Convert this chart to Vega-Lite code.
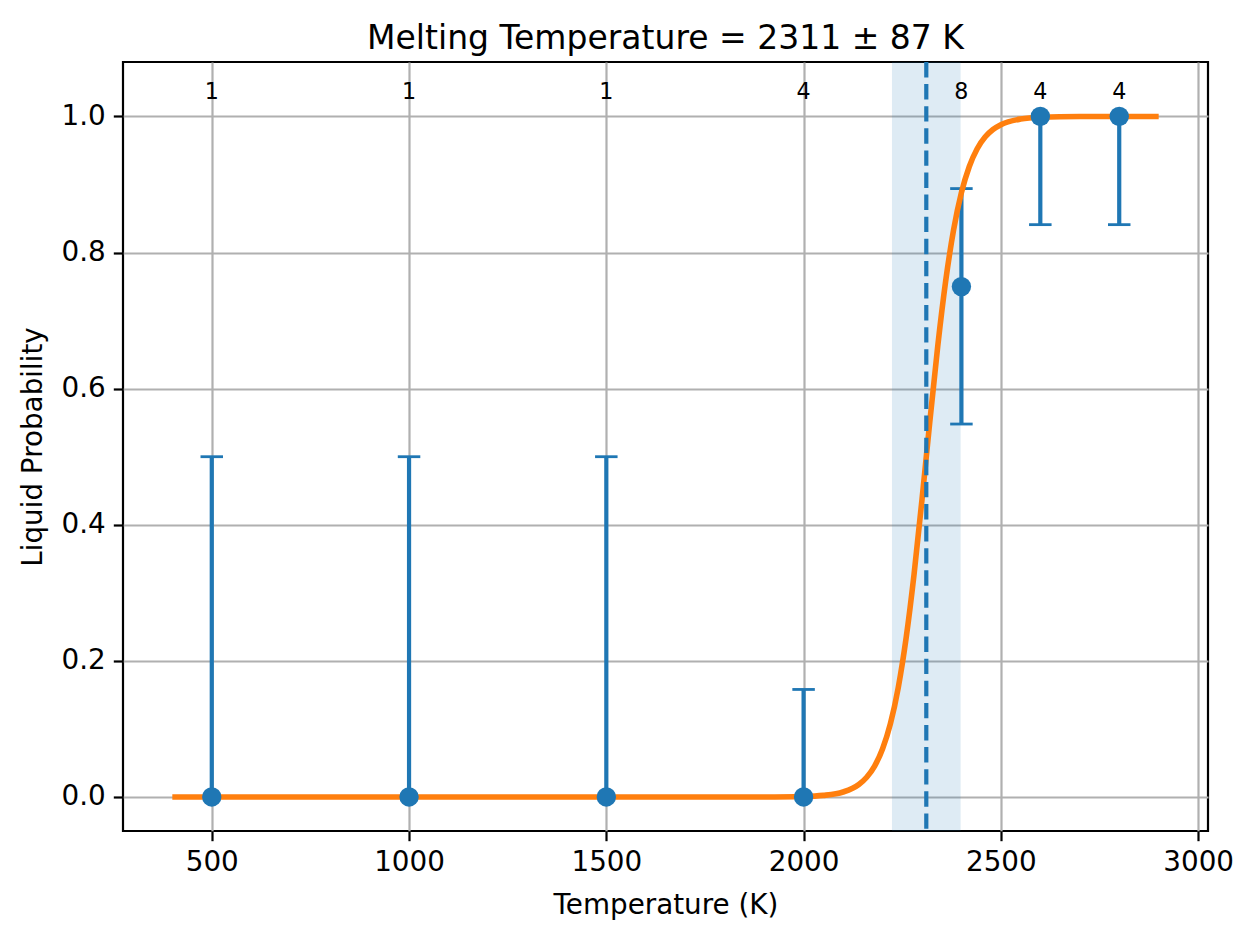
{
  "$schema": "https://vega.github.io/schema/vega-lite/v6.json",
  "width": 1085,
  "height": 769,
  "autosize": {"type": "none"},
  "padding": {"left": 123, "top": 62, "right": 45, "bottom": 108},
  "background": "white",
  "title": {
    "text": "Melting Temperature = 2311 ± 87 K",
    "font": "DejaVu Sans",
    "fontSize": 33,
    "fontWeight": "normal",
    "color": "black",
    "baseline": "alphabetic",
    "offset": 16,
    "dy": 38
  },
  "datasets": {
    "obs": [
      {"T": 500, "p": 0, "lo": 0, "hi": 0.5, "n": 1},
      {"T": 1000, "p": 0, "lo": 0, "hi": 0.5, "n": 1},
      {"T": 1500, "p": 0, "lo": 0, "hi": 0.5, "n": 1},
      {"T": 2000, "p": 0, "lo": 0, "hi": 0.158, "n": 4},
      {"T": 2400, "p": 0.75, "lo": 0.548, "hi": 0.894, "n": 8},
      {"T": 2600, "p": 1, "lo": 0.841, "hi": 1, "n": 4},
      {"T": 2800, "p": 1, "lo": 0.841, "hi": 1, "n": 4}
    ],
    "fit": [
      {"T": 400, "p": 0},
      {"T": 1500, "p": 0},
      {"T": 1800, "p": 0.00001},
      {"T": 1900, "p": 0.00007},
      {"T": 2000, "p": 0.00072},
      {"T": 2050, "p": 0.00231},
      {"T": 2100, "p": 0.00734},
      {"T": 2140, "p": 0.0184},
      {"T": 2160, "p": 0.029},
      {"T": 2180, "p": 0.0454},
      {"T": 2200, "p": 0.0704},
      {"T": 2220, "p": 0.1075},
      {"T": 2240, "p": 0.161},
      {"T": 2260, "p": 0.234},
      {"T": 2280, "p": 0.3272},
      {"T": 2300, "p": 0.4364},
      {"T": 2311, "p": 0.5},
      {"T": 2320, "p": 0.5521},
      {"T": 2340, "p": 0.6624},
      {"T": 2360, "p": 0.7576},
      {"T": 2380, "p": 0.8327},
      {"T": 2400, "p": 0.888},
      {"T": 2420, "p": 0.9265},
      {"T": 2440, "p": 0.9526},
      {"T": 2460, "p": 0.9697},
      {"T": 2480, "p": 0.9807},
      {"T": 2500, "p": 0.9878},
      {"T": 2550, "p": 0.9962},
      {"T": 2600, "p": 0.9988},
      {"T": 2700, "p": 0.9999},
      {"T": 2900, "p": 1}
    ],
    "melt": [{"Tm": 2311, "lo": 2224, "hi": 2398}]
  },
  "config": {
    "font": "DejaVu Sans",
    "view": {"stroke": "black", "strokeWidth": 2.2},
    "axis": {
      "domain": false,
      "grid": true,
      "gridColor": "#b0b0b0",
      "gridWidth": 2.2,
      "ticks": true,
      "tickColor": "black",
      "tickWidth": 2.2,
      "tickSize": 9.7,
      "labelFont": "DejaVu Sans",
      "labelFontSize": 27.8,
      "labelColor": "black",
      "labelPadding": 8,
      "titleFont": "DejaVu Sans",
      "titleFontSize": 27.8,
      "titleFontWeight": "normal",
      "titleColor": "black"
    }
  },
  "encoding": {
    "x": {
      "type": "quantitative",
      "scale": {"domain": [275, 3025], "nice": false, "zero": false},
      "axis": {
        "title": "Temperature (K)",
        "values": [500, 1000, 1500, 2000, 2500, 3000],
        "format": "d",
        "titlePadding": 15
      }
    },
    "y": {
      "type": "quantitative",
      "scale": {"domain": [-0.05, 1.08], "nice": false, "zero": false},
      "axis": {
        "title": "Liquid Probability",
        "values": [0, 0.2, 0.4, 0.6, 0.8, 1.0],
        "format": ".1f",
        "titlePadding": 14
      }
    }
  },
  "layer": [
    {
      "data": {"name": "melt"},
      "mark": {"type": "rect", "color": "#1f77b4", "opacity": 0.15},
      "encoding": {
        "x": {"field": "lo", "type": "quantitative"},
        "x2": {"field": "hi"}
      }
    },
    {
      "data": {"name": "obs"},
      "mark": {"type": "rule", "color": "#1f77b4", "strokeWidth": 4.2},
      "encoding": {
        "x": {"field": "T", "type": "quantitative"},
        "y": {"field": "lo", "type": "quantitative"},
        "y2": {"field": "hi"}
      }
    },
    {
      "data": {"name": "obs"},
      "transform": [{"filter": "datum.lo < datum.p"}],
      "mark": {"type": "tick", "orient": "horizontal", "color": "#1f77b4", "size": 22.5, "thickness": 2.8, "opacity": 1},
      "encoding": {
        "x": {"field": "T", "type": "quantitative"},
        "y": {"field": "lo", "type": "quantitative"}
      }
    },
    {
      "data": {"name": "obs"},
      "transform": [{"filter": "datum.hi > datum.p"}],
      "mark": {"type": "tick", "orient": "horizontal", "color": "#1f77b4", "size": 22.5, "thickness": 2.8, "opacity": 1},
      "encoding": {
        "x": {"field": "T", "type": "quantitative"},
        "y": {"field": "hi", "type": "quantitative"}
      }
    },
    {
      "data": {"name": "fit"},
      "mark": {"type": "line", "color": "#ff7f0e", "strokeWidth": 5.6, "interpolate": "monotone"},
      "encoding": {
        "x": {"field": "T", "type": "quantitative"},
        "y": {"field": "p", "type": "quantitative"}
      }
    },
    {
      "data": {"name": "melt"},
      "mark": {"type": "rule", "color": "#1f77b4", "strokeWidth": 4.2, "strokeDash": [15.4, 6.7]},
      "encoding": {
        "x": {"field": "Tm", "type": "quantitative"}
      }
    },
    {
      "data": {"name": "obs"},
      "mark": {"type": "circle", "color": "#1f77b4", "opacity": 1, "size": 376},
      "encoding": {
        "x": {"field": "T", "type": "quantitative"},
        "y": {"field": "p", "type": "quantitative"}
      }
    },
    {
      "data": {"name": "obs"},
      "mark": {"type": "text", "font": "DejaVu Sans", "fontSize": 22.2, "color": "black", "align": "center", "baseline": "alphabetic"},
      "encoding": {
        "x": {"field": "T", "type": "quantitative"},
        "y": {"datum": 1.026, "type": "quantitative"},
        "text": {"field": "n", "type": "quantitative"}
      }
    }
  ]
}
